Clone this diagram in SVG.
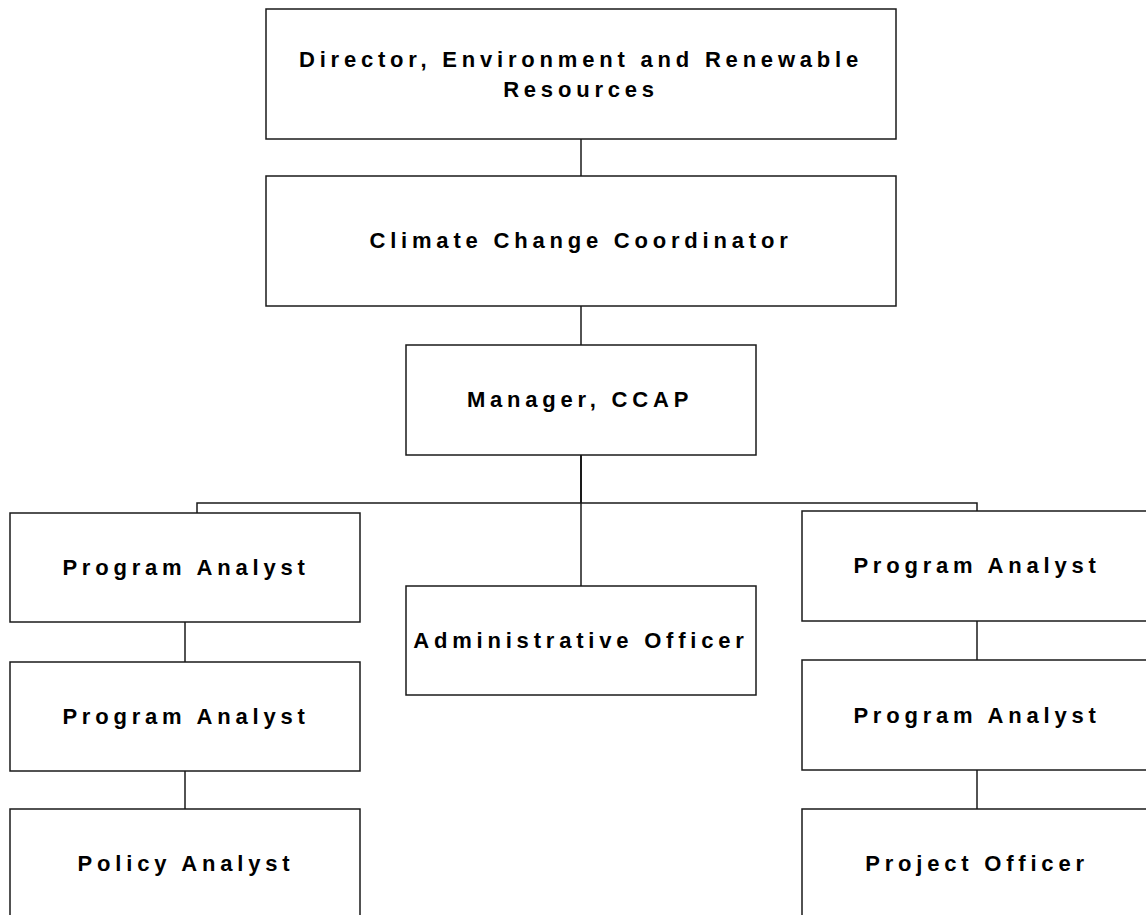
<svg xmlns="http://www.w3.org/2000/svg" width="1146" height="915" viewBox="0 0 1146 915">
  <style>
    .box { fill: #ffffff; stroke: #1a1a1a; stroke-width: 1.5; }
    .link { fill: none; stroke: #1a1a1a; stroke-width: 1.5; }
    .label { font-family: "Liberation Sans", Arial, sans-serif; font-weight: bold; font-size: 22px; letter-spacing: 4.8px; fill: #000000; text-anchor: middle; }
  </style>
  <rect x="0" y="0" width="1146" height="915" fill="#ffffff"/>

  <!-- reporting lines -->
  <g id="connectors">
    <line class="link" x1="581" y1="139" x2="581" y2="176"/>
    <line class="link" x1="581" y1="306" x2="581" y2="345"/>
    <line class="link" x1="581" y1="455" x2="581" y2="503" style="stroke-width:2"/>
    <line class="link" x1="581" y1="503" x2="581" y2="586"/>
    <polyline class="link" points="197,513 197,503 977,503 977,511"/>
    <line class="link" x1="185" y1="622" x2="185" y2="662"/>
    <line class="link" x1="185" y1="771" x2="185" y2="809"/>
    <line class="link" x1="977" y1="621" x2="977" y2="660"/>
    <line class="link" x1="977" y1="770" x2="977" y2="809"/>
  </g>

  <g id="director">
    <rect class="box" x="266" y="9" width="630" height="130"/>
    <text class="label" x="581" y="67">Director, Environment and Renewable</text>
    <text class="label" x="581" y="97">Resources</text>
  </g>

  <g id="climate-change-coordinator">
    <rect class="box" x="266" y="176" width="630" height="130"/>
    <text class="label" x="581" y="248">Climate Change Coordinator</text>
  </g>

  <g id="manager-ccap">
    <rect class="box" x="406" y="345" width="350" height="110"/>
    <text class="label" x="580" y="407">Manager, CCAP</text>
  </g>

  <g id="program-analyst-left-1">
    <rect class="box" x="10" y="513" width="350" height="109"/>
    <text class="label" x="186" y="575">Program Analyst</text>
  </g>

  <g id="program-analyst-left-2">
    <rect class="box" x="10" y="662" width="350" height="109"/>
    <text class="label" x="186" y="724">Program Analyst</text>
  </g>

  <g id="policy-analyst">
    <rect class="box" x="10" y="809" width="350" height="110"/>
    <text class="label" x="186" y="871">Policy Analyst</text>
  </g>

  <g id="administrative-officer">
    <rect class="box" x="406" y="586" width="350" height="109"/>
    <text class="label" x="581" y="648">Administrative Officer</text>
  </g>

  <g id="program-analyst-right-1">
    <rect class="box" x="802" y="511" width="350" height="110"/>
    <text class="label" x="977" y="573">Program Analyst</text>
  </g>

  <g id="program-analyst-right-2">
    <rect class="box" x="802" y="660" width="350" height="110"/>
    <text class="label" x="977" y="723">Program Analyst</text>
  </g>

  <g id="project-officer">
    <rect class="box" x="802" y="809" width="350" height="110"/>
    <text class="label" x="977" y="871">Project Officer</text>
  </g>
</svg>
